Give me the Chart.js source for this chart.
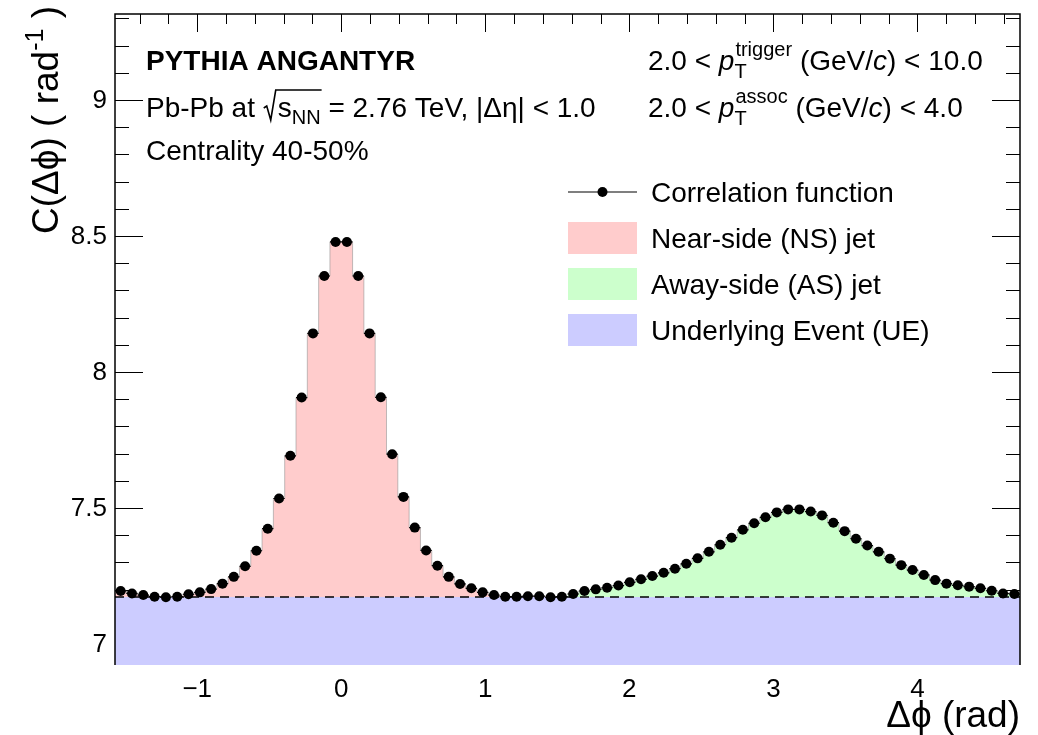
<!DOCTYPE html>
<html>
<head>
<meta charset="utf-8">
<script src="https://cdn.jsdelivr.net/npm/chart.js@4.4.1/dist/chart.umd.min.js"></script>
<style>
  html, body { margin: 0; padding: 0; background: #fff; }
  #wrap { width: 1038px; height: 735px; }
</style>
</head>
<body>
<div id="wrap"><canvas id="c" width="1038" height="735"></canvas></div>
<script>
// binning of the correlation function (full 2pi range)
const nBins = 80;
const phiMin = -Math.PI / 2;
const phiMax = 3 * Math.PI / 2;

// C(dphi) per bin
const corrValues = [
  7.195, 7.186, 7.180, 7.174, 7.172, 7.174, 7.183, 7.190, 7.202, 7.222,
  7.247, 7.286, 7.343, 7.424, 7.535, 7.692, 7.906, 8.142, 8.353, 8.478,
  8.478, 8.353, 8.142, 7.907, 7.698, 7.541, 7.428, 7.344, 7.288, 7.247,
  7.221, 7.205, 7.190, 7.180, 7.174, 7.174, 7.176, 7.176, 7.172, 7.174,
  7.184, 7.195, 7.201, 7.207, 7.215, 7.227, 7.238, 7.250, 7.262, 7.277,
  7.295, 7.315, 7.339, 7.365, 7.391, 7.420, 7.444, 7.466, 7.484, 7.495,
  7.495, 7.487, 7.473, 7.446, 7.415, 7.387, 7.362, 7.339, 7.314, 7.290,
  7.272, 7.254, 7.235, 7.222, 7.216, 7.211, 7.205, 7.196, 7.186, 7.184
];
// underlying event level (dashed line)
const ueLevel = 7.173;
// near side = first half of the bins, away side = second half
const nsRange = [0, 40];
const asRange = [40, 80];

const xTickValues = [-1, 0, 1, 2, 3, 4];
const xTickLabels = ['\u22121', '0', '1', '2', '3', '4'];
const yTickValues = [7, 7.5, 8, 8.5, 9];
const yTickLabels = ['7', '7.5', '8', '8.5', '9'];
const yMin = 6.923, yMax = 9.316;

const legendLabels = ['Correlation function', 'Near-side (NS) jet', 'Away-side (AS) jet', 'Underlying Event (UE)'];
const colNS = '#ffcccc', colAS = '#ccffcc', colUE = '#ccccff';

const binWidth = (phiMax - phiMin) / nBins;
const FONT = '"Liberation Sans", Arial, sans-serif';

// points at bin centres
const corrPoints = corrValues.map((v, i) => ({ x: phiMin + (i + 0.5) * binWidth, y: v }));

// step histogram outline between two bin indices
function histStep(r) {
  const pts = [];
  for (let i = r[0]; i < r[1]; i++) pts.push({ x: phiMin + i * binWidth, y: corrValues[i] });
  pts.push({ x: phiMin + r[1] * binWidth, y: corrValues[r[1] - 1] });
  return pts;
}

// ---- text helpers ----
function runsWidth(ctx, runs) {
  let w = 0;
  runs.forEach(r => {
    if (r.stack) {
      let m = 0;
      r.stack.forEach(s => { ctx.font = s.font; m = Math.max(m, ctx.measureText(s.text).width + (s.dx || 0)); });
      w += m;
    } else {
      ctx.font = r.font; w += ctx.measureText(r.text).width + (r.gap || 0);
    }
  });
  return w;
}
function drawRuns(ctx, runs) {
  let cx = 0;
  runs.forEach(r => {
    if (r.stack) {
      let m = 0;
      r.stack.forEach(s => {
        ctx.font = s.font;
        ctx.fillText(s.text, cx + (s.dx || 0), s.dy || 0);
        m = Math.max(m, ctx.measureText(s.text).width + (s.dx || 0));
      });
      cx += m;
    } else if (r.sqrt) {
      // radical sign over the following runs
      const w = runsWidth(ctx, r.sqrt);
      ctx.save();
      ctx.lineWidth = 1.6;
      ctx.beginPath();
      ctx.moveTo(cx + 1, -9);
      ctx.lineTo(cx + 4, -11);
      ctx.lineTo(cx + 8, 3);
      ctx.lineTo(cx + 13, -27);
      ctx.lineTo(cx + 16 + w, -27);
      ctx.stroke();
      ctx.restore();
      ctx.save();
      ctx.translate(cx + 15, 0);
      drawRuns(ctx, r.sqrt);
      ctx.restore();
      cx += 15 + w;
    } else {
      ctx.font = r.font;
      ctx.fillText(r.text, cx, r.dy || 0);
      cx += ctx.measureText(r.text).width + (r.gap || 0);
    }
  });
  return cx;
}
function textAt(ctx, x, y, runs) {
  ctx.save();
  ctx.translate(x, y);
  ctx.textBaseline = 'alphabetic';
  ctx.textAlign = 'left';
  ctx.fillStyle = '#000';
  ctx.strokeStyle = '#000';
  drawRuns(ctx, runs);
  ctx.restore();
}

const fMain = '28px ' + FONT;
const fIt = 'italic 28px ' + FONT;
const fScript = '20px ' + FONT;

// ---- frame, ticks and labels ----
const framePlugin = {
  id: 'rootFrame',
  beforeDatasetsDraw(chart) {
    const { ctx, chartArea: a, scales: { x, y } } = chart;
    ctx.save();
    ctx.strokeStyle = '#000';
    ctx.lineWidth = 1;
    ctx.beginPath();
    // x ticks (top and bottom)
    for (let k = -7; k <= 23; k++) {
      const v = k * 0.2;
      if (v <= phiMin || v >= phiMax) continue;
      const major = k % 5 === 0;
      const px = Math.round(x.getPixelForValue(v)) + 0.5;
      const len = major ? 18 : 10;
      ctx.moveTo(px, a.top); ctx.lineTo(px, a.top + len);
      ctx.moveTo(px, a.bottom); ctx.lineTo(px, a.bottom - len);
    }
    // y ticks (left and right)
    for (let k = 70; k <= 93; k++) {
      const v = k / 10;
      if (v <= yMin || v >= yMax) continue;
      const major = k % 5 === 0;
      const py = Math.round(y.getPixelForValue(v)) + 0.5;
      const len = major ? 28 : 14;
      ctx.moveTo(a.left, py); ctx.lineTo(a.left + len, py);
      ctx.moveTo(a.right, py); ctx.lineTo(a.right - len, py);
    }
    ctx.stroke();
    ctx.restore();
  },
  beforeDatasetDraw(chart, args) {
    // horizontal bin-width bars of the correlation points
    if (args.index !== 0) return;
    const { ctx, scales: { x, y } } = chart;
    ctx.save();
    ctx.strokeStyle = '#000';
    ctx.lineWidth = 1.2;
    ctx.beginPath();
    corrPoints.forEach(p => {
      const py = y.getPixelForValue(p.y);
      ctx.moveTo(x.getPixelForValue(p.x - binWidth / 2), py);
      ctx.lineTo(x.getPixelForValue(p.x + binWidth / 2), py);
    });
    ctx.stroke();
    ctx.restore();
  },
  afterDatasetsDraw(chart) {
    const { ctx, chartArea: a } = chart;
    ctx.save();
    ctx.strokeStyle = '#000';
    ctx.lineWidth = 1.5;
    ctx.beginPath();
    ctx.moveTo(a.left, a.bottom); ctx.lineTo(a.left, a.top);
    ctx.lineTo(a.right, a.top); ctx.lineTo(a.right, a.bottom);
    ctx.stroke();
    ctx.restore();
  },
  afterDraw(chart) {
    const { ctx, chartArea: a, scales: { x, y } } = chart;
    ctx.save();
    ctx.fillStyle = '#000';
    // tick labels
    ctx.font = '26px ' + FONT;
    ctx.textAlign = 'center';
    ctx.textBaseline = 'alphabetic';
    xTickValues.forEach((v, i) => ctx.fillText(xTickLabels[i], x.getPixelForValue(v), 697));
    ctx.textAlign = 'right';
    ctx.textBaseline = 'middle';
    yTickValues.forEach((v, i) => ctx.fillText(yTickLabels[i], 107, y.getPixelForValue(v) + 1));
    ctx.restore();

    // axis titles
    const fTitle = '37px ' + FONT;
    const xTitle = [{ text: '\u0394\u03d5 (rad)', font: fTitle }];
    ctx.save();
    const xw = runsWidth(ctx, xTitle);
    ctx.restore();
    textAt(ctx, a.right - xw, 727, xTitle);

    const yTitle = [
      { text: 'C(\u0394\u03d5) ( rad', font: fTitle },
      { text: '-1', font: '25px ' + FONT, dy: -15 },
      { text: ' )', font: fTitle }
    ];
    ctx.save();
    const yw = runsWidth(ctx, yTitle);
    ctx.translate(58, 6 + yw);
    ctx.rotate(-Math.PI / 2);
    ctx.fillStyle = '#000';
    drawRuns(ctx, yTitle);
    ctx.restore();

    // annotations
    textAt(ctx, 146, 70, [{ text: 'PYTHIA ANGANTYR', font: 'bold 28px ' + FONT }]);
    textAt(ctx, 146, 117, [
      { text: 'Pb-Pb at ', font: fMain },
      { sqrt: [
          { text: 's', font: fMain },
          { text: 'NN', font: fScript, dy: 7 }
        ] },
      { text: ' = 2.76 TeV, |\u0394\u03b7| < 1.0', font: fMain }
    ]);
    textAt(ctx, 146, 160, [{ text: 'Centrality 40-50%', font: fMain }]);
    textAt(ctx, 648, 70, [
      { text: '2.0 < ', font: fMain },
      { text: 'p', font: fIt },
      { stack: [
          { text: 'trigger', font: fScript, dy: -14, dx: 1 },
          { text: 'T', font: fScript, dy: 8, dx: 0 }
        ] },
      { text: ' (GeV/', font: fMain },
      { text: 'c', font: fIt },
      { text: ') < 10.0', font: fMain }
    ]);
    textAt(ctx, 648, 117, [
      { text: '2.0 < ', font: fMain },
      { text: 'p', font: fIt },
      { stack: [
          { text: 'assoc', font: fScript, dy: -14, dx: 1 },
          { text: 'T', font: fScript, dy: 8, dx: 0 }
        ] },
      { text: ' (GeV/', font: fMain },
      { text: 'c', font: fIt },
      { text: ') < 4.0', font: fMain }
    ]);

    // legend
    const lx = 568, lw = 69, rows = [192, 238, 284, 330];
    ctx.save();
    ctx.strokeStyle = '#000';
    ctx.lineWidth = 1.2;
    ctx.beginPath();
    ctx.moveTo(lx, rows[0]); ctx.lineTo(lx + lw, rows[0]);
    ctx.stroke();
    ctx.fillStyle = '#000';
    ctx.beginPath();
    ctx.arc(lx + lw / 2, rows[0], 5, 0, Math.PI * 2);
    ctx.fill();
    [colNS, colAS, colUE].forEach((c, i) => {
      ctx.fillStyle = c;
      ctx.fillRect(lx, rows[i + 1] - 16, lw, 32);
    });
    ctx.restore();
    legendLabels.forEach((t, i) => textAt(ctx, 651, rows[i] + 10, [{ text: t, font: fMain }]));
  }
};

new Chart(document.getElementById('c'), {
  type: 'line',
  data: {
    datasets: [
      {
        label: legendLabels[0],
        data: corrPoints,
        showLine: false,
        pointRadius: 5,
        pointHoverRadius: 5,
        pointBackgroundColor: '#000',
        pointBorderWidth: 0,
        order: 0
      },
      {
        label: legendLabels[3],
        data: [{ x: phiMin, y: ueLevel }, { x: phiMax, y: ueLevel }],
        borderColor: '#000',
        borderWidth: 1.6,
        borderDash: [9, 6],
        backgroundColor: colUE,
        fill: 'start',
        pointRadius: 0,
        order: 1
      },
      {
        label: legendLabels[2],
        data: histStep(asRange),
        stepped: true,
        borderColor: 'rgba(150,150,150,0.6)',
        borderWidth: 1,
        backgroundColor: colAS,
        fill: 'start',
        pointRadius: 0,
        order: 2
      },
      {
        label: legendLabels[1],
        data: histStep(nsRange),
        stepped: true,
        borderColor: 'rgba(150,150,150,0.6)',
        borderWidth: 1,
        backgroundColor: colNS,
        fill: 'start',
        pointRadius: 0,
        order: 3
      }
    ]
  },
  options: {
    responsive: false,
    animation: false,
    layout: { padding: { left: 115, top: 14, right: 18, bottom: 70 } },
    plugins: { legend: { display: false }, tooltip: { enabled: false } },
    scales: {
      x: {
        type: 'linear', min: phiMin, max: phiMax, display: false,
        afterBuildTicks: s => { s.ticks = xTickValues.map(v => ({ value: v })); }
      },
      y: {
        type: 'linear', min: yMin, max: yMax, display: false,
        afterBuildTicks: s => { s.ticks = yTickValues.map(v => ({ value: v })); }
      }
    }
  },
  plugins: [framePlugin]
});
</script>
</body>
</html>
